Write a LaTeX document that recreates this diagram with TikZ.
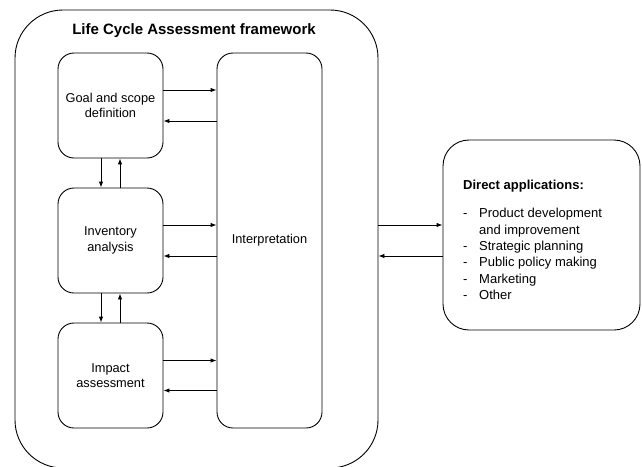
\documentclass[tikz,border=0pt]{standalone}
\usepackage{fontspec}
\setmainfont{Liberation Sans}
\usetikzlibrary{arrows.meta}
\begin{document}
\begin{tikzpicture}[x=1pt,y=-1pt,
  box/.style={draw,line width=0.9pt,rounded corners=16pt,minimum width=105pt,minimum height=105pt,
    align=center,inner sep=0pt,font=\fontsize{12.8}{15.5}\selectfont},
  arr/.style={-{Latex[length=6pt,width=4.5pt]},line width=0.9pt}]
\useasboundingbox (0,0) rectangle (642,466);
\node[draw,line width=0.9pt,rounded corners=48pt,minimum width=363pt,minimum height=458pt,inner sep=0pt] (frame) at (196.5,239) {};
\node[font=\fontsize{15}{18}\selectfont\bfseries] (title) at (194,31) {Life Cycle Assessment framework};

\node[box] (goal) at (110.5,105.5) {Goal and scope\\definition};
\node[box] (inv) at (110.5,240.5) {Inventory\\analysis};
\node[box] (imp) at (110.5,375.5) {Impact\\assessment};
\node[box,minimum height=375pt] (interp) at (269.5,240.5) {Interpretation};

\node[box,rounded corners=26pt,minimum width=197pt,minimum height=190pt] (apps) at (541.5,235) {};
\node[anchor=north west,inner sep=0pt,font=\fontsize{13}{16.4}\selectfont] (applist) at (463,178) {%
\begin{tabular}{@{}p{16pt}@{}l@{}}
\multicolumn{2}{@{}l@{}}{\textbf{Direct applications:}}\\[11.6pt]
- & Product development\\
  & and improvement\\
- & Strategic planning\\
- & Public policy making\\
- & Marketing\\
- & Other
\end{tabular}};

\draw[arr] ([yshift=15.5]goal.east) -- ([yshift=15.5]goal.east -| interp.west);
\draw[arr] ([yshift=-15.5]goal.east -| interp.west) -- ([yshift=-15.5]goal.east);
\draw[arr] ([yshift=15.5]inv.east) -- ([yshift=15.5]inv.east -| interp.west);
\draw[arr] ([yshift=-15.5]inv.east -| interp.west) -- ([yshift=-15.5]inv.east);
\draw[arr] ([yshift=15]imp.east) -- ([yshift=15]imp.east -| interp.west);
\draw[arr] ([yshift=-15]imp.east -| interp.west) -- ([yshift=-15]imp.east);

\draw[arr] ([xshift=-9.5]goal.south) -- ([xshift=-9.5]inv.north);
\draw[arr] ([xshift=9.5]inv.north) -- ([xshift=9.5]goal.south);
\draw[arr] ([xshift=-9.5]inv.south) -- ([xshift=-9.5]imp.north);
\draw[arr] ([xshift=9.5]imp.north) -- ([xshift=9.5]inv.south);

\draw[arr] ([yshift=15.5]inv.east -| frame.east) -- ([yshift=15.5]inv.east -| apps.west);
\draw[arr] ([yshift=-15.5]inv.east -| apps.west) -- ([yshift=-15.5]inv.east -| frame.east);
\end{tikzpicture}
\end{document}
